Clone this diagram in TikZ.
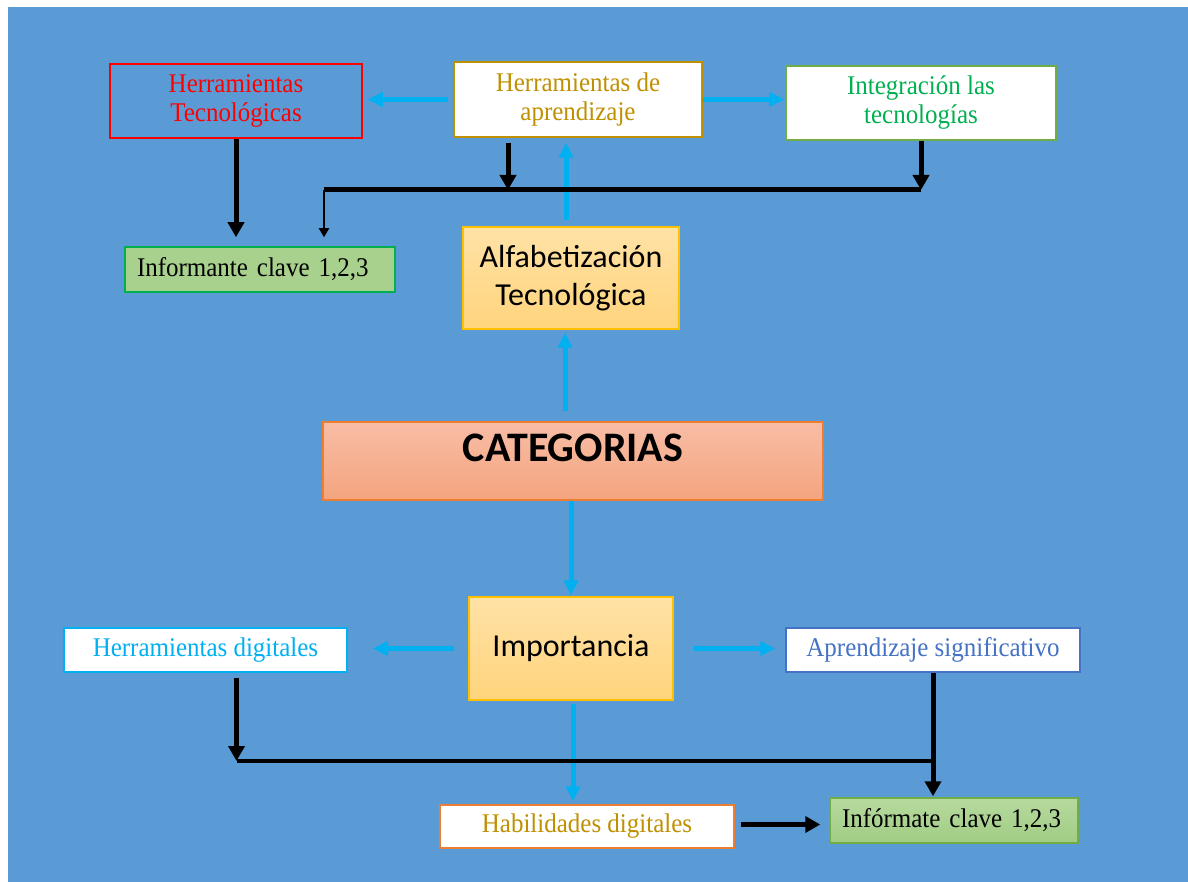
\documentclass[tikz,border=0pt]{standalone}
\usepackage{fontspec}
\setmainfont[FakeStretch=0.925]{Liberation Serif}
\newfontfamily\calibri{Carlito}
\usepackage{xcolor}
\usepackage{tikz}
\usetikzlibrary{arrows.meta}

\definecolor{bgblue}{HTML}{5B9BD5}
\definecolor{arrowcyan}{HTML}{00B0F0}
\definecolor{goldtext}{HTML}{BF9000}
\definecolor{greentext}{HTML}{00B050}
\definecolor{greenline}{HTML}{70AD47}
\definecolor{bluetext}{HTML}{4472C4}
\definecolor{orangeline}{HTML}{ED7D31}
\definecolor{yellowline}{HTML}{FFC000}
\definecolor{greenfill}{HTML}{A9D18E}
\definecolor{greentop}{HTML}{B7DA9F}
\definecolor{greenbottom}{HTML}{A0CC84}
\definecolor{paletop}{HTML}{FFE2A6}
\definecolor{palebottom}{HTML}{FFD47C}
\definecolor{salmontop}{HTML}{F8BDA5}
\definecolor{salmonbottom}{HTML}{F4A47F}

\begin{document}
\begin{tikzpicture}[x=1pt, y=-1pt,
    box/.style={draw, rectangle, line width=1.5pt, inner sep=0pt, align=center, font=\fontsize{27}{29}\selectfont},
    whitebox/.style={box, fill=white},
    keybox/.style={draw=yellowline, rectangle, line width=1.5pt, inner sep=0pt, align=center, top color=paletop, bottom color=palebottom, font=\calibri\fontsize{32}{38}\selectfont},
    cyanflow/.style={draw=arrowcyan, line width=5pt, -{Triangle[length=15pt,width=14pt]}},
    blackflow/.style={line width=5pt, -{Triangle[length=15pt,width=16pt]}},
    thinflow/.style={line width=1.8pt, -{Triangle[length=9pt,width=10pt]}}]

    % background
    \fill[white] (0,0) rectangle (1188,882);
    \fill[bgblue] (8,7) rectangle (1188,882);

    % top row
    \node (ht) [box, draw=red, text=red, minimum width=252pt, minimum height=74pt] at (236,101) {Herramientas\\Tecnológicas};
    \node (ha) [whitebox, draw=goldtext, text=goldtext, minimum width=248pt, minimum height=75pt] at (578,99.5) {Herramientas de\\aprendizaje};
    \node (it) [whitebox, draw=greenline, text=greentext, minimum width=270pt, minimum height=74pt] at (921,103) {Integración las\\tecnologías};
    \node (inf1) [box, draw=greentext, fill=greenfill, text width=246pt, inner xsep=12pt, align=left, minimum height=45pt] at (260,269.5) {Informante clave 1,2,3};

    % centre
    \node (alf) [keybox, minimum width=216pt, minimum height=102pt] at (571,278) {Alfabetización\\Tecnológica};
    \node (cat) [draw=orangeline, rectangle, line width=1.5pt, top color=salmontop, bottom color=salmonbottom, minimum width=500pt, inner ysep=14.5pt, text height=25pt, text depth=24pt, font=\calibri\bfseries\fontsize{42}{48}\selectfont] at (573,461) {CATEGORIAS};
    \node (imp) [keybox, minimum width=204pt, minimum height=103pt] at (571,648.5) {Importancia};

    % bottom row
    \node (hd) [whitebox, draw=arrowcyan, text=arrowcyan, minimum width=283pt, minimum height=44pt] at (205.5,650) {Herramientas digitales};
    \node (as) [whitebox, draw=bluetext, text=bluetext, minimum width=294pt, minimum height=44pt] at (933,650) {Aprendizaje significativo};
    \node (hab) [whitebox, draw=orangeline, text=goldtext, minimum width=294pt, minimum height=43pt] at (587,826.5) {Habilidades digitales};
    \node (inf2) [box, draw=greenline, top color=greentop, bottom color=greenbottom, text width=224pt, inner xsep=12pt, align=left, minimum height=45pt] at (954,820.5) {Infórmate clave 1,2,3};

    \coordinate (j1) at (324,190);
    \coordinate (j2) at (921,190);
    \coordinate (j3) at (236.5,761);

    % cyan arrows
    \draw[cyanflow, shorten <=5pt, shorten >=5pt] (ha.west) -- (ha.west -| ht.east);
    \draw[cyanflow, shorten >=1pt] (ha.east) -- (ha.east -| it.west);
    \draw[cyanflow, shorten <=6pt, shorten >=5pt] ([xshift=-5pt]alf.north) -- ([xshift=-5pt]alf.north |- ha.south);
    \draw[cyanflow, shorten <=10pt, shorten >=3pt] ([xshift=-6pt]alf.south |- cat.north) -- ([xshift=-6pt]alf.south);
    \draw[cyanflow, shorten >=1pt] (imp.north |- cat.south) -- (imp.north);
    \draw[cyanflow, shorten <=14pt, shorten >=25pt] (imp.west) -- (imp.west -| hd.east);
    \draw[cyanflow, shorten <=20pt, shorten >=10pt] (imp.east) -- (imp.east -| as.west);
    \draw[cyanflow, shorten <=3pt, shorten >=3pt] ([xshift=2pt]imp.south) -- ([xshift=2pt]imp.south |- hab.north);

    % black arrows
    \draw[blackflow, shorten >=9pt] (ht.south) -- (ht.south |- inf1.north);
    \draw[blackflow, shorten <=5pt] ([xshift=-70pt]ha.south) -- ([xshift=-70pt]ha.south |- j1);
    \draw[blackflow] (it.south) -- (j2);
    \draw[line width=5pt] (j2) -- (j1);
    \draw[thinflow, shorten >=9pt] (j1) -- (j1 |- inf1.north);
    \draw[blackflow, shorten <=5pt] (j3 |- hd.south) -- (j3);
    \draw[line width=4pt] (j3) -- (j3 -| as.south);
    \draw[blackflow, shorten >=1pt] (as.south) -- (as.south |- inf2.north);
    \draw[blackflow, shorten <=6pt, shorten >=9pt] ([yshift=2pt]hab.east) -- ([yshift=2pt]hab.east -| inf2.west);
\end{tikzpicture}
\end{document}
